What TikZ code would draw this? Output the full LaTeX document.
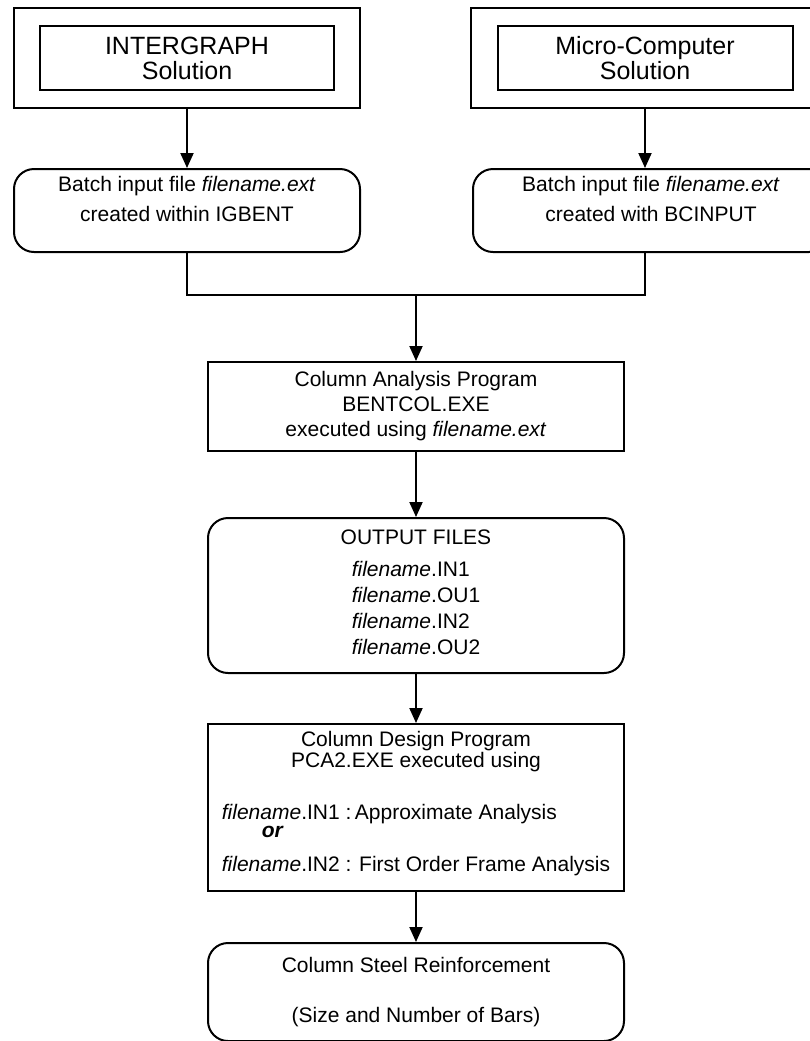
\documentclass[tikz,border=0pt]{standalone}
\usepackage{fontspec}
\setmainfont{Liberation Sans}
\usetikzlibrary{positioning,arrows.meta}

\newcommand{\fname}{\textit{filename}}

\begin{document}
\begin{tikzpicture}[
    srcframe/.style={
      draw, line width=1pt,
      minimum width=173pt, minimum height=50pt},
    titlebox/.style={
      draw, line width=1pt, inner sep=1pt,
      minimum width=147pt, minimum height=32pt,
      align=center, font=\fontsize{12.5}{12.5}\selectfont},
    rbox/.style={
      draw, line width=1pt, rounded corners=10pt, inner sep=2pt,
      minimum width=208pt,
      align=center, font=\fontsize{10.5}{12}\selectfont},
    sbox/.style={rbox, rounded corners=0pt},
    arr/.style={-{Triangle[length=7.5pt,width=6.5pt]}, line width=1pt},
    conn/.style={line width=1pt}
  ]
  \useasboundingbox (0pt,0pt) rectangle (405pt,-520.5pt);
  % two sources
  \node[srcframe] (igframe) at (93.5pt,-29pt) {};
  \node[titlebox] (ig) at (igframe.center) {INTERGRAPH\\Solution};
  \node[srcframe, minimum width=180pt] (mcframe) at (325.5pt,-29pt) {};
  \node[titlebox, minimum width=147.5pt] (mc) at (322.5pt,-29pt)
    {Micro-Computer\\Solution};
  % batch files
  \node[rbox, minimum width=173pt, minimum height=41.5pt,
        below=29.5pt of igframe] (igbatch)
    {Batch input file \textit{filename.ext}\\[3pt]created within IGBENT\\\mbox{}};
  \node[rbox, minimum width=178pt, minimum height=41.5pt,
        below=29.5pt of mcframe] (mcbatch)
    {Batch input file \textit{filename.ext}\\[3pt]created with BCINPUT\\\mbox{}};
  \coordinate (join) at (208pt,-147.5pt);
  % main chain
  \node[sbox, minimum height=44.5pt, below=33pt of join] (analysis)
    {Column Analysis Program\\[0.5pt]BENTCOL.EXE\\[0.5pt]executed using \textit{filename.ext}};
  \node[rbox, minimum height=77.5pt, below=32.5pt of analysis] (output) {%
    OUTPUT FILES\\[4pt]
    \begin{tabular}[t]{@{}l@{}}
      \fname.IN1\\[1pt] \fname.OU1\\[1pt] \fname.IN2\\[1pt] \fname.OU2
    \end{tabular}};
  \node[sbox, minimum height=83.5pt, below=24.5pt of output] (design) {%
    Column Design Program\\[-1.5pt]
    PCA2.EXE executed using\\[14pt]
    \begin{tabular}[t]{@{}l@{}}
      \fname.IN1 :\,Approximate Analysis\\[-3pt]
      \hspace{20pt}\textbf{\textit{or}}\\[5pt]
      \fname.IN2 : First Order Frame Analysis
    \end{tabular}\\[2pt]\mbox{}};
  \node[rbox, minimum height=49pt, below=25pt of design] (steel)
    {Column Steel Reinforcement\\[13pt](Size and Number of Bars)};
  % connectors
  \draw[arr] (igframe) -- (igbatch);
  \draw[arr] (mc |- mcframe.south) -- (mc |- mcbatch.north);
  \draw[conn] (igbatch.south) |- (join) -| (mc |- mcbatch.south);
  \draw[arr] (join) -- (analysis);
  \draw[arr] (analysis) -- (output);
  \draw[arr] (output) -- (design);
  \draw[arr] (design) -- (steel);
\end{tikzpicture}
\end{document}
